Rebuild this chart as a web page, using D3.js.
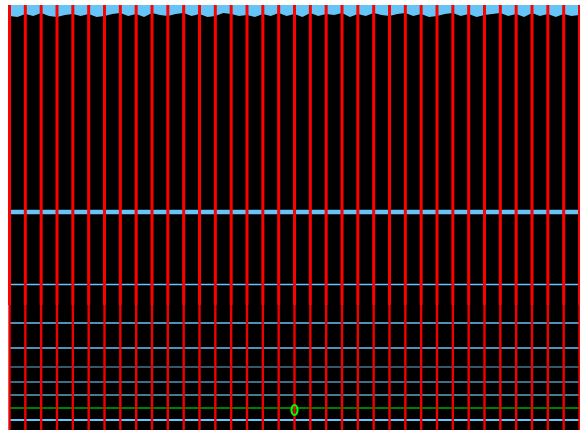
<!DOCTYPE html>
<html>
<head>
<meta charset="utf-8">
<script src="https://cdn.jsdelivr.net/npm/d3@7"></script>
<style>
  body { margin: 0; background: #fff; }
</style>
</head>
<body>
<script>
var svgWidth = 580;
var svgHeight = 430;

var margin = { top: 5, right: 0, bottom: 0, left: 9 };

var width = svgWidth - margin.left - margin.right;
var height = svgHeight - margin.top - margin.bottom;

// vertical markers, one per index
var markers = d3.range(37);

// horizontal levels (value units, 0 = bottom edge)
var levelValues = [218, 145.5, 107, 82, 63, 48, 35, 22, 10];
var levelColors = ["#66c4f6", "#66c4f6", "#66c4f6", "#66c4f6", "#3f7891", "#4f95b8", "#5aa4c8", "#00a800", "#66c4f6"];
var levelWidths = [4.5, 1.6, 1.6, 1.6, 1.6, 1.4, 1.4, 1.6, 1.8];

// top band lower edge, sampled at half steps
var bandEdge = [414, 413, 416, 414, 417, 414, 413, 415, 416, 414, 416, 413, 414, 416, 417, 414,
  416, 413, 417, 415, 414, 416, 417, 414, 416, 413, 414, 417, 416, 414, 415, 413, 416, 414,
  417, 414, 416, 413, 417, 414, 416, 415, 417, 413, 416, 414, 417, 415, 414, 416, 417, 414,
  416, 413, 414, 416, 417, 414, 416, 413, 415, 416, 417, 414, 416, 413, 417, 414, 416, 413,
  416, 414, 415];

// marker point
var pointIndex = 18;
var pointValue = 20;

var svg = d3.select("body")
  .append("svg")
  .attr("width", svgWidth)
  .attr("height", svgHeight);

var chartGroup = svg.append("g")
  .attr("transform", `translate(${margin.left}, ${margin.top})`);

var xScale = d3.scaleLinear()
  .domain([0, 36])
  .range([0.5, width - 0.5]);

var yScale = d3.scaleLinear()
  .domain([0, 425])
  .range([height, 0]);

// background
chartGroup.append("rect")
  .attr("width", width)
  .attr("height", height)
  .attr("fill", "#000");

// top band
var drawBand = d3.area()
  .x((d, i) => xScale(i / 2))
  .y0(yScale(425))
  .y1(d => yScale(d));

chartGroup.append("path")
  .attr("d", drawBand(bandEdge))
  .attr("fill", "#66c4f6");

// horizontal levels
chartGroup.selectAll(".level")
  .data(levelValues)
  .enter()
  .append("line")
  .attr("class", "level")
  .attr("x1", 0)
  .attr("x2", width)
  .attr("y1", d => yScale(d))
  .attr("y2", d => yScale(d))
  .attr("stroke", (d, i) => levelColors[i])
  .attr("stroke-width", (d, i) => levelWidths[i]);

// vertical markers: thick upper part, thinner lower part
chartGroup.selectAll(".vup")
  .data(markers)
  .enter()
  .append("line")
  .attr("class", "vup")
  .attr("x1", d => xScale(d))
  .attr("x2", d => xScale(d))
  .attr("y1", yScale(425))
  .attr("y2", yScale(125))
  .attr("stroke", "#ff0000")
  .attr("stroke-width", 3);

chartGroup.selectAll(".vlow")
  .data(markers)
  .enter()
  .append("line")
  .attr("class", "vlow")
  .attr("x1", d => xScale(d))
  .attr("x2", d => xScale(d))
  .attr("y1", yScale(125))
  .attr("y2", yScale(0))
  .attr("stroke", "#f00000")
  .attr("stroke-width", 2.4);

// green marker
chartGroup.append("ellipse")
  .attr("cx", xScale(pointIndex))
  .attr("cy", yScale(pointValue))
  .attr("rx", 3)
  .attr("ry", 5)
  .attr("fill", "none")
  .attr("stroke", "#00ff00")
  .attr("stroke-width", 2.2);
</script>
</body>
</html>
